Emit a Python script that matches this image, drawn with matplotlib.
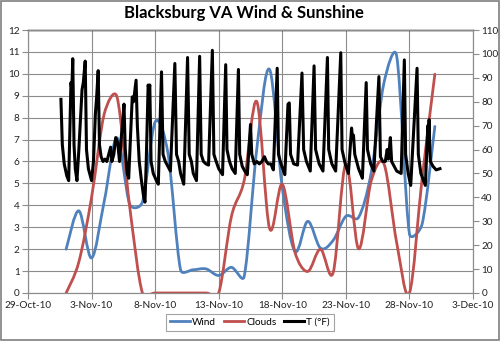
import datetime as dt

import numpy as np
import matplotlib
matplotlib.use("Agg")
import matplotlib.pyplot as plt
import matplotlib.dates as mdates
from matplotlib.path import Path
from matplotlib.patches import PathPatch, Rectangle
from matplotlib.lines import Line2D
from matplotlib.ticker import FuncFormatter

plt.rcParams['font.family'] = ['Lato', 'DejaVu Sans']

start = dt.datetime(2010, 10, 29)

# daily values, 1-Nov-10 .. 30-Nov-10
days = [dt.datetime(2010, 11, d) for d in range(1, 31)]
wind = [2.0, 3.75, 1.6, 4.2, 7.08, 4.05, 4.15, 7.8, 6.4, 1.06,
        1.06, 1.1, 0.8, 1.17, 0.75, 6.6, 10.2, 4.8, 1.9, 3.27,
        2.05, 2.4, 3.5, 3.45, 5.5, 9.6, 10.8, 2.7, 3.15, 7.6]
clouds = [0, 13, 40, 75, 82, 36, 0, 0, 0, 0,
          0, 0, 0, 32, 47, 80, 27, 45.5, 17, 9,
          18.3, 8.5, 54, 18.5, 47, 54, 21, 0, 48, 91.5]

# temperature readings: days after 29-Oct-10, deg F
t_day = [2.59, 2.70, 2.85, 3.05, 3.20, 3.38, 3.45, 3.52, 3.62, 3.72,
         3.85, 4.00, 4.25, 4.35, 4.50, 4.60, 4.75, 5.00, 5.15, 5.30,
         5.40, 5.52, 5.62, 5.75, 5.90, 6.05, 6.20, 6.35, 6.50, 6.60,
         6.75, 6.90, 7.05, 7.20, 7.35, 7.45, 7.55, 7.65, 7.80, 7.92,
         8.20, 8.30, 8.50, 8.60, 8.75, 8.90, 9.10, 9.20, 9.30, 9.45,
         9.52, 9.58, 9.68, 9.85, 10.10, 10.25, 10.50, 10.62, 10.80, 11.00,
         11.20, 11.55, 11.68, 11.85, 12.00, 12.25, 12.55, 12.68, 12.85, 13.00,
         13.25, 13.50, 13.62, 13.80, 14.00, 14.20, 14.50, 14.62, 14.80, 15.00,
         15.30, 15.55, 15.65, 15.85, 16.05, 16.30, 16.55, 16.65, 16.85, 17.05,
         17.25, 17.50, 17.60, 17.80, 18.00, 18.20, 18.40, 18.60, 18.75, 18.90,
         19.10, 19.30, 19.60, 19.70, 19.90, 20.20, 20.45, 20.55, 20.65, 20.90,
         21.20, 21.55, 21.68, 21.90, 22.20, 22.50, 22.62, 22.90, 23.20, 23.55,
         23.65, 23.90, 24.20, 24.60, 24.70, 24.95, 25.20, 25.45, 25.52, 25.60,
         25.70, 26.00, 26.30, 26.60, 26.70, 26.95, 27.20, 27.60, 27.72, 27.90,
         28.10, 28.25, 28.35, 28.50, 28.60, 28.80, 29.00, 29.35, 29.60, 29.70,
         29.90, 30.10, 30.60, 30.70, 30.90, 31.25, 31.45, 31.50, 31.55, 31.60,
         31.65, 31.85, 32.10, 32.40]
t_val = [81, 62, 54, 49, 47, 88, 85, 98, 62, 52,
         47, 60, 85, 88, 97, 60, 52, 47, 55, 75,
         82, 93, 62, 57, 55, 56, 55, 58, 61, 55,
         58, 65, 63, 55, 66, 72, 79, 60, 50, 48,
         82, 80, 89, 70, 55, 48, 40, 38, 55, 87,
         85, 87, 55, 50, 47, 45.5, 92.5, 58, 55, 53,
         51, 96, 58, 55, 50, 45.5, 98.5, 58, 55, 50,
         47, 99, 58, 55, 54, 53.5, 101.5, 58, 55, 52,
         49.5, 95.5, 60, 55, 52, 50, 93.5, 58, 53, 51,
         49.5, 70.5, 58, 54, 55, 54, 55, 57, 55, 54,
         54, 51.5, 94, 58, 54, 49.5, 79, 79.5, 58, 54,
         53.5, 92, 60, 55, 51, 95, 60, 54, 51, 98.5,
         60, 54, 51, 100.5, 60, 54, 50, 69, 65, 66,
         58, 52, 48, 88, 60, 54, 51, 90.5, 57, 55,
         55, 60, 56, 65, 55, 53, 51, 50, 97.5, 58,
         50, 45, 94, 58, 50, 45, 70, 65, 72.5, 60,
         55, 53, 51.5, 52]

x_ticks = [dt.datetime(2010, 10, 29), dt.datetime(2010, 11, 3), dt.datetime(2010, 11, 8),
           dt.datetime(2010, 11, 13), dt.datetime(2010, 11, 18), dt.datetime(2010, 11, 23),
           dt.datetime(2010, 11, 28), dt.datetime(2010, 12, 3)]

BLUE = '#4F81BD'
RED = '#C0504D'
GRID = '#8c8c8c'


def smooth_path(ax, x, y):
    # excel style smoothed line: catmull-rom bezier, control arms
    # limited to half the segment length on screen
    pts = ax.transData.transform(np.column_stack([x, y]))
    n = len(pts)
    verts = [pts[0]]
    codes = [Path.MOVETO]
    for i in range(n - 1):
        a = max(i - 1, 0)
        b = min(i + 2, n - 1)
        seg = np.hypot(*(pts[i + 1] - pts[i]))
        d1 = (pts[i + 1] - pts[a]) / 6
        d2 = (pts[b] - pts[i]) / 6
        for d in (d1, d2):
            m = np.hypot(*d)
            if m > 0.5 * seg:
                d *= 0.5 * seg / m
        verts += [pts[i] + d1, pts[i + 1] - d2, pts[i + 1]]
        codes += [Path.CURVE4] * 3
    verts = ax.transData.inverted().transform(np.array(verts))
    return Path(verts, codes)


def date_label(v, pos):
    d = mdates.num2date(v)
    return "%d-%s" % (d.day, d.strftime('%b-%y'))


def main():
    fig = plt.figure(figsize=(5.0, 3.41), dpi=100)
    ax = fig.add_axes([0.056, 0.1408, 0.89, 0.7712])
    ax2 = ax.twinx()

    ax.set_xlim(mdates.date2num(x_ticks[0]), mdates.date2num(x_ticks[-1]))
    ax.set_ylim(0, 12)
    ax2.set_ylim(0, 110)
    ax.set_yticks(range(0, 13))
    ax2.set_yticks(range(0, 111, 10))
    ax.set_xticks(mdates.date2num(x_ticks))
    ax.xaxis.set_major_formatter(FuncFormatter(date_label))

    xd = mdates.date2num(days)
    ax.add_patch(PathPatch(smooth_path(ax, xd, wind), fill=False, ec=BLUE, lw=2.0,
                           capstyle='round', joinstyle='round'))
    ax2.add_patch(PathPatch(smooth_path(ax2, xd, clouds), fill=False, ec=RED, lw=2.0,
                            capstyle='round', joinstyle='round'))
    xt = [mdates.date2num(start) + d for d in t_day]
    ax2.plot(xt, t_val, color='black', lw=2.2, solid_joinstyle='round')

    ax.grid(True, color=GRID, lw=0.8)
    ax.set_axisbelow(True)
    for a in (ax, ax2):
        for s in a.spines.values():
            s.set_color(GRID)
            s.set_linewidth(0.8)
        a.tick_params(direction='out', length=4, width=0.8, color=GRID,
                      labelsize=7.2, labelcolor='#222222', pad=2)
    ax.spines['top'].set_color('black')
    ax.spines['top'].set_linewidth(1.0)

    fig.suptitle('Blacksburg VA Wind & Sunshine', x=0.488, y=0.985,
                 fontsize=12, fontweight='bold')

    handles = [Line2D([], [], color=BLUE, lw=2.0),
               Line2D([], [], color=RED, lw=2.0),
               Line2D([], [], color='black', lw=2.2)]
    leg = fig.legend(handles, ['Wind', 'Clouds', 'T (°F)'], loc='lower center',
                     bbox_to_anchor=(0.5, 0.015), ncol=3, fontsize=7.2,
                     frameon=True, fancybox=False, edgecolor=GRID,
                     handlelength=2.0, columnspacing=0.8, handletextpad=0.2,
                     borderpad=0.4)
    leg.get_frame().set_linewidth(0.8)

    fig.patches.append(Rectangle((0.002, 0.003), 0.996, 0.994, transform=fig.transFigure,
                                 fill=False, ec='#7f7f7f', lw=1.2))

    fig.savefig('out.png', dpi=100)


if __name__ == '__main__':
    main()
